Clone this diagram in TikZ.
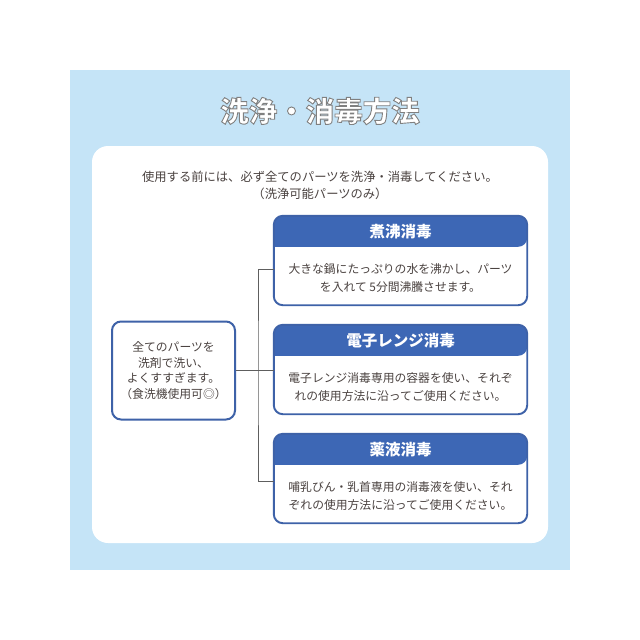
\documentclass[tikz,border=0pt]{standalone}
\usepackage{fontspec}
\setmainfont{Noto Sans CJK JP}
\definecolor{bgblue}{HTML}{C5E4F7}
\definecolor{hblue}{HTML}{3D67B5}
\definecolor{bblue}{HTML}{3E62A8}
\definecolor{txt}{HTML}{4A4240}
\definecolor{connc}{HTML}{5E5E5E}
\newcommand{\outlinedtext}[1]{\special{pdf:literal direct 0.9 w 0.5 G 2 Tr}#1\special{pdf:literal direct 0 Tr}}
\tikzset{
  lbox/.style={draw=bblue, line width=2pt, rounded corners=9pt, fill=white,
    minimum width=123pt, minimum height=98pt, inner sep=0pt, align=center,
    text=txt, font=\fontsize{11.8}{15.5}\selectfont},
  rbox/.style={fill=white, minimum width=253pt, minimum height=89pt, inner sep=0pt},
  rborder/.style={draw=bblue, line width=1.9pt, rounded corners=9pt},
  hfill/.style={fill=hblue},
  htext/.style={text=white, inner sep=0pt, font=\fontsize{15.5}{17}\selectfont\bfseries},
  btext/.style={text=txt, inner sep=0pt, align=center, font=\fontsize{11.8}{18}\selectfont},
  conn/.style={draw=connc, line width=1pt},
  intro/.style={text=txt, inner sep=0pt, align=center, font=\fontsize{12.3}{17}\selectfont}
}
\begin{document}
\begin{tikzpicture}[x=1pt,y=-1pt]
\useasboundingbox (0,0) rectangle (640,640);
\fill[white] (0,0) rectangle (640,640);
\fill[bgblue] (70,70) rectangle (570,570);
\fill[white, rounded corners=16pt] (92,146) rectangle (548,543);

\node[text=white, inner sep=0pt, font=\fontsize{28.5}{30}\selectfont\bfseries] (title) at (320,111) {\outlinedtext{洗浄・消毒方法}};

\node[intro] (intro) at (320,185.5) {使用する前には、必ず全てのパーツを洗浄・消毒してください。\\（洗浄可能パーツのみ）};

\node[lbox] (wash) at (173.5,370.5) {全てのパーツを\\洗剤で洗い、\\よくすすぎます。\\（食洗機使用可◎）};

% box 1
\node[rbox] (m1) at (400.5,260.5) {};
\fill[hfill] ([yshift=-31pt]m1.north west) [rounded corners=9pt] -- (m1.north west) -- (m1.north east) -- ([yshift=-31pt]m1.north east) [sharp corners] -- cycle;
\draw[rborder] (m1.north west) rectangle (m1.south east);
\node[htext] (h1) at ([yshift=-16pt]m1.north) {煮沸消毒};
\node[btext] (t1) at ([yshift=27pt]m1.south) {大きな鍋にたっぷりの水を沸かし、パーツ\\を入れて 5分間沸騰させます。};

% box 2
\node[rbox] (m2) at (400.5,369.5) {};
\fill[hfill] ([yshift=-31pt]m2.north west) [rounded corners=9pt] -- (m2.north west) -- (m2.north east) -- ([yshift=-31pt]m2.north east) [sharp corners] -- cycle;
\draw[rborder] (m2.north west) rectangle (m2.south east);
\node[htext] (h2) at ([yshift=-16pt]m2.north) {電子レンジ消毒};
\node[btext] (t2) at ([yshift=27pt]m2.south) {電子レンジ消毒専用の容器を使い、それぞ\\れの使用方法に沿ってご使用ください。};

% box 3
\node[rbox] (m3) at (400.5,478.5) {};
\fill[hfill] ([yshift=-31pt]m3.north west) [rounded corners=9pt] -- (m3.north west) -- (m3.north east) -- ([yshift=-31pt]m3.north east) [sharp corners] -- cycle;
\draw[rborder] (m3.north west) rectangle (m3.south east);
\node[htext] (h3) at ([yshift=-16pt]m3.north) {薬液消毒};
\node[btext] (t3) at ([yshift=27pt]m3.south) {哺乳びん・乳首専用の消毒液を使い、それ\\ぞれの使用方法に沿ってご使用ください。};

% connectors
\coordinate (j) at (258,370.5);
\draw[conn] (wash.east) -- (m2.west |- wash.east);
\draw[conn] ([yshift=-8.5pt]m1.west) -| (j) |- ([yshift=-2.5pt]m3.west);
\end{tikzpicture}
\end{document}
